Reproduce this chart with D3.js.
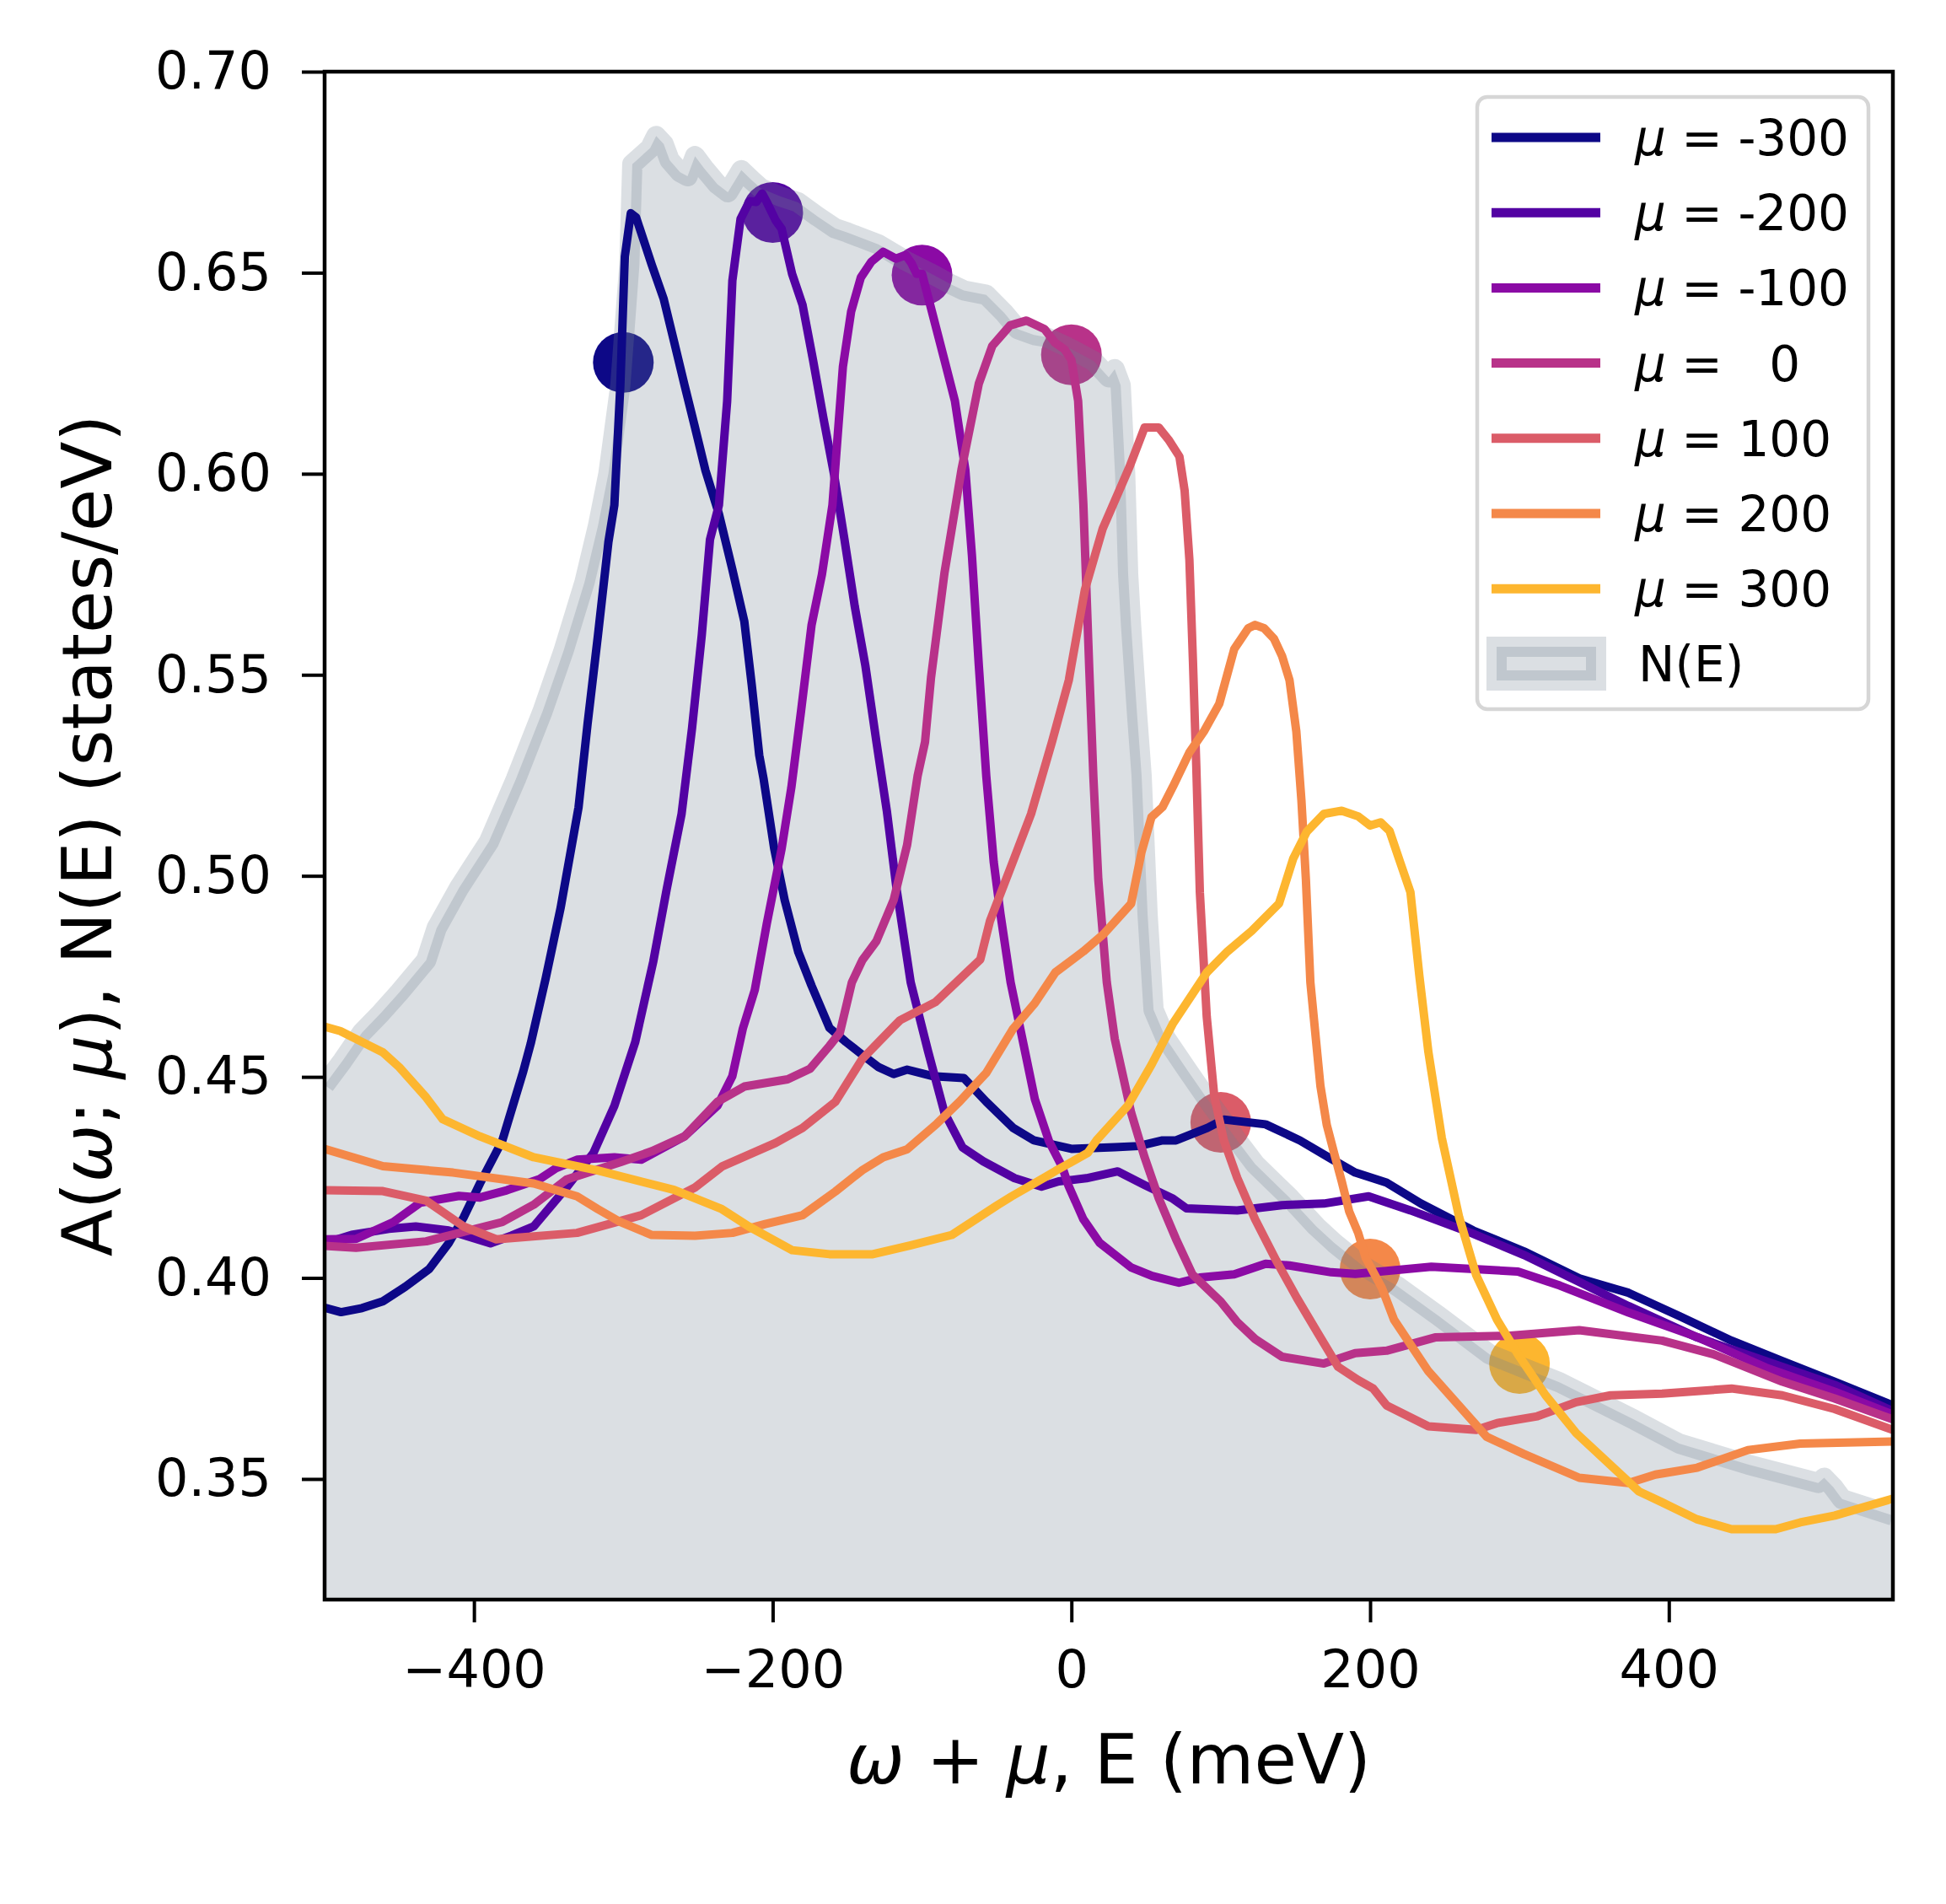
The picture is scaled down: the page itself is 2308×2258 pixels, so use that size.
<!DOCTYPE html>
<html>
<head>
<meta charset="utf-8">
<script src="https://cdn.jsdelivr.net/npm/d3@7"></script>
<style>
    body { margin: 0; background: #fff; }
    svg { display: block; font-family: "DejaVu Sans", sans-serif; }
    .axis text { font-size: 62px; fill: #000; font-family: "DejaVu Sans", sans-serif; }
    .axis line { stroke: #000; stroke-width: 4; }
    .axis path { display: none; }
    .chartFrame { fill: none; stroke: #000; stroke-width: 4.5; }
    .curve { fill: none; stroke-width: 10; stroke-linejoin: round; }
    .dosArea { fill: rgba(112, 128, 144, 0.25); stroke: none; }
    .dosLine { fill: none; stroke: rgba(112, 128, 144, 0.25); stroke-width: 24; stroke-linejoin: round; }
    .axisLabel { font-size: 82px; fill: #000; }
    .legendText { font-size: 58px; fill: #000; white-space: pre; }
</style>
</head>
<body>
<script>
//chemical potentials of the spectral functions (meV)
var muValues = [-300, -200, -100, 0, 100, 200, 300];

//y value of each marker dot, placed at omega + mu = mu
var markerValues = [0.6277, 0.665, 0.6494, 0.6296, 0.4387, 0.4022, 0.3787];

//density of states N(E), [E, value]
var dosCurve = [[-500,0.448],[-488,0.454],[-475,0.461],[-462,0.466],[-450,0.471],[-432,0.479],[-425,0.487],
    [-410,0.497],[-390,0.5085],[-372,0.524],[-354,0.541],[-340,0.556],[-326,0.573],[-317,0.587],[-310,0.600],
    [-302,0.622],[-296,0.652],
    [-294,0.677],[-288,0.679],[-282,0.681],[-278,0.684],[-273,0.682],[-269,0.678],[-262,0.675],[-257,0.674],
    [-252,0.679],[-246,0.676],[-237,0.672],[-230,0.670],[-221,0.6755],[-214,0.673],[-208,0.671],[-195,0.669],
    [-183,0.6675],[-170,0.664],[-158,0.661],[-150,0.660],[-143,0.659],[-129,0.657],[-120,0.655],[-111,0.653],
    [-95,0.650],[-80,0.647],[-72,0.6456],[-57,0.6445],[-45,0.640],[-36,0.636],[-25,0.6345],[-17,0.634],
    [0,0.631],[15,0.628],[25,0.624],[29,0.626],[33,0.622],[36,0.600],[38,0.575],[40,0.562],[44,0.540],
    [47,0.525],[51,0.4905],[55,0.4667],[63,0.4597],[77,0.452],[91,0.4445],[111,0.4342],[123,0.4283],
    [146,0.420],[164,0.4128],[176,0.4087],[195,0.403],[218,0.398],[246,0.3905],[280,0.381],[327,0.374],
    [377,0.3647],[407,0.3588],[453,0.3536],[500,0.349],[504,0.3503],[510,0.348],[516,0.345],[550,0.3409]];

//spectral function A(omega; mu) for each mu, [omega + mu, value]
var specM300 = [[-500,0.3926],[-489,0.3915],[-475,0.3925],[-461,0.3942],[-446,0.3978],[-430,0.4022],
    [-417,0.4086],[-407,0.415],[-396,0.4235],[-381,0.4342],[-367,0.4514],[-362,0.4583],[-352,0.4745],
    [-342,0.492],[-330,0.517],[-324,0.5376],[-317,0.5598],[-310,0.583],[-306,0.5922],[-302,0.622],
    [-299,0.654],[-295,0.6648],[-291.5,0.6638],[-281,0.652],[-273,0.6435],[-266,0.6328],[-259,0.622],
    [-252,0.6115],[-245,0.6008],[-236,0.590],[-227,0.5762],[-219,0.5633],[-214,0.5474],[-209,0.530],
    [-206,0.5239],[-199,0.5068],[-192,0.494],[-183,0.4812],[-174,0.4727],[-162,0.4622],[-151,0.4587],
    [-140,0.4555],[-129,0.4524],[-119,0.4507],[-110,0.4518],[-93,0.4502],[-72,0.4497],[-57,0.4438],
    [-39,0.4373],[-25,0.4342],[0,0.4321],[29,0.4325],[45,0.4328],[61,0.4342],[70,0.4342],[91,0.4373],
    [102,0.4394],[130,0.4382],[153,0.4342],[174,0.4296],[190,0.4262],[211,0.4237],[234,0.4185],
    [269,0.4118],[303,0.4066],[340,0.3999],[373,0.3963],[407,0.3905],[442,0.3844],[476,0.3793],
    [511,0.3742],[550,0.3683]];

var specM200 = [[-500,0.4086],[-482,0.4107],[-457,0.4122],[-439,0.4128],[-417,0.4118],[-389,0.4086],
    [-375,0.4105],[-360,0.4128],[-338,0.4225],[-320,0.4311],[-306,0.4428],[-292,0.4587],[-280,0.4786],
    [-271,0.4966],[-261,0.5154],[-254,0.5367],[-247.5,0.5598],[-242,0.5836],[-236,0.5922],[-230.5,0.618],
    [-227,0.648],[-221.5,0.6634],[-215.5,0.6678],[-211,0.6676],[-207,0.6697],[-204,0.6676],[-198,0.663],
    [-194,0.6609],[-187,0.6497],[-180,0.642],[-173,0.6283],[-166,0.6138],[-159,0.600],[-152,0.5838],
    [-145,0.5669],[-138,0.5524],[-130.5,0.5332],[-123.6,0.5162],[-117,0.4966],[-107.6,0.4735],
    [-96,0.4564],[-85,0.4411],[-73,0.4325],[-59,0.429],[-38,0.4248],[-20,0.4227],[-8.5,0.424],
    [10,0.4248],[31,0.4265],[49,0.4231],[68,0.4197],[77,0.4173],[111,0.4168],[141,0.4181],[169,0.4185],
    [199,0.4203],[227,0.4168],[269,0.411],[303,0.4057],[340,0.399],[373,0.393],[419,0.3852],[465,0.3793],
    [511,0.3734],[550,0.3669]];

var specM100 = [[-500,0.4096],[-479,0.4097],[-454,0.4139],[-436,0.4187],[-410,0.4204],[-396,0.42],
    [-378,0.4218],[-356,0.4246],[-345,0.4273],[-331,0.4294],[-306,0.43],[-288,0.4294],[-259,0.4352],
    [-237,0.4428],[-227,0.4502],[-220,0.462],[-212,0.4716],[-204,0.488],[-194,0.5068],[-187.5,0.522],
    [-181,0.541],[-174,0.5623],[-167,0.575],[-160,0.5922],[-153,0.6266],[-147.5,0.6403],[-141,0.6488],
    [-134,0.6527],[-126,0.6552],[-117.5,0.6535],[-111,0.6544],[-107,0.6523],[-103.6,0.6497],[-100,0.6497],
    [-94,0.6412],[-85,0.6283],[-78,0.6181],[-71,0.601],[-66.6,0.5797],[-62,0.5524],[-57,0.5248],
    [-52,0.5034],[-47.5,0.4905],[-40.7,0.4735],[-32,0.458],[-24.5,0.4445],[-15,0.434],[-6,0.4275],
    [-2,0.423],[8,0.4146],[19,0.4087],[40,0.4026],[54,0.4005],[72,0.3988],[86,0.4001],[109,0.4009],
    [130,0.4035],[146,0.4031],[174,0.4014],[190,0.401],[241,0.4028],[299,0.4016],[327,0.3981],
    [373,0.3914],[419,0.3853],[465,0.3777],[511,0.3717],[550,0.366]];

var spec0 = [[-500,0.408],[-479,0.4075],[-432,0.4091],[-381,0.4139],[-360,0.4182],[-338,0.4245],
    [-302,0.4288],[-281,0.4315],[-259,0.4352],[-237,0.4438],[-219,0.4476],[-190,0.4494],[-175,0.452],
    [-162,0.4577],[-155,0.461],[-147,0.4735],[-140,0.479],[-130.5,0.4838],[-119,0.494],[-110,0.5077],
    [-103,0.5248],[-98,0.5333],[-94,0.5493],[-85,0.5753],[-73.6,0.601],[-62,0.6224],[-53,0.6318],
    [-41,0.6369],[-30,0.6381],[-18,0.636],[-11,0.6326],[-4.5,0.6309],[0,0.6283],[4.5,0.6181],[8,0.5924],
    [12,0.551],[14.7,0.5247],[18,0.4991],[23.7,0.4735],[29,0.4595],[40,0.4411],[49,0.430],[58.5,0.4198],
    [70,0.4097],[81,0.4009],[100,0.3941],[111,0.389],[123,0.3848],[141,0.3804],[169,0.3787],[190,0.3813],
    [211,0.3819],[243.5,0.3852],[292,0.3856],[340,0.387],[395.5,0.3844],[430,0.381],[476,0.3742],
    [511,0.370],[550,0.3648]];

var spec100 = [[-500,0.4218],[-461,0.4216],[-432,0.4192],[-407,0.4128],[-385,0.4096],[-331,0.4112],
    [-288,0.4156],[-252,0.4225],[-234,0.4277],[-198,0.4336],[-180,0.4373],[-158,0.4438],[-140,0.4545],
    [-119,0.4625],[-114.7,0.4641],[-91,0.4686],[-61,0.4792],[-54.5,0.4888],[-38.4,0.5043],[-27,0.5154],
    [-13,0.5333],[-1.7,0.5487],[0,0.5524],[9,0.5711],[21,0.5864],[39,0.6018],[49,0.6115],[58.5,0.6115],
    [65,0.6085],[72.3,0.6043],[75.8,0.5958],[79,0.5786],[81.4,0.5531],[83.6,0.5274],[86,0.4959],
    [90.6,0.465],[95.6,0.4454],[102,0.4343],[111,0.4249],[123,0.4146],[137,0.4044],[151,0.395],
    [164.6,0.3865],[178.5,0.3779],[192,0.3746],[202,0.3725],[211,0.3683],[239,0.3631],[271,0.3622],
    [285,0.3639],[312,0.3656],[338,0.3691],[361,0.3708],[395.5,0.3712],[442,0.3725],[476,0.3708],
    [511,0.3674],[550,0.3622]];

var spec200 = [[-500,0.4321],[-461,0.4278],[-414,0.4262],[-360,0.4235],[-331,0.4203],[-317,0.4171],
    [-302,0.4139],[-281,0.4107],[-252,0.4105],[-227,0.4112],[-205,0.4134],[-180,0.4156],[-158,0.4215],
    [-140,0.4268],[-126,0.43],[-110,0.432],[-90,0.4384],[-75,0.4438],[-57,0.451],[-39,0.462],
    [-24.5,0.4683],[-10.7,0.476],[8,0.4812],[21.5,0.4855],[40,0.4931],[47,0.506],[53.6,0.5146],
    [61,0.5171],[68,0.5222],[79,0.5307],[89,0.5361],[99,0.5428],[109,0.5564],[118.4,0.5616],[123,0.5624],
    [129,0.5616],[135.6,0.559],[141,0.5547],[146,0.5487],[150.6,0.5359],[154,0.5188],[157,0.4991],
    [160,0.4735],[166.7,0.4478],[171,0.438],[176,0.4309],[181,0.424],[186,0.4165],[192,0.4112],
    [197,0.405],[208,0.3974],[216,0.3896],[239,0.3768],[278,0.3605],[303,0.3562],[340,0.3503],
    [373,0.349],[391,0.3511],[419,0.3528],[453,0.3572],[488,0.3588],[550,0.3593]];

var spec300 = [[-500,0.4625],[-489.5,0.4614],[-475,0.4587],[-461,0.4561],[-450,0.4524],[-432,0.4449],
    [-421,0.4395],[-396,0.4352],[-360,0.43],[-317,0.4267],[-266,0.4219],[-234,0.4171],[-216,0.4128],
    [-187,0.4069],[-162,0.4059],[-133,0.4059],[-107.6,0.4081],[-80,0.4107],[-50,0.418],[-40,0.4203],
    [-17.5,0.4251],[-10.7,0.4266],[11,0.4311],[17,0.4343],[37.7,0.4428],[53.6,0.453],[68,0.4633],
    [90.7,0.476],[104.5,0.4812],[120.7,0.4863],[139,0.4931],[148.5,0.5043],[157.6,0.511],[169,0.5154],
    [181,0.5162],[192,0.5148],[200,0.5125],[207,0.5133],[213,0.5112],[220,0.5035],[227,0.4959],
    [233,0.475],[239,0.4562],[248,0.4348],[259.6,0.4151],[271,0.4007],[285,0.3896],[299,0.381],
    [317.5,0.3708],[338,0.3614],[380,0.3469],[395.5,0.3442],[418.6,0.34],[442,0.3375],[471.6,0.3375],
    [488,0.3392],[511,0.3409],[550,0.3451]];

//tick values for both axes
var xTicks = [-400, -200, 0, 200, 400];
var yTicks = [0.35, 0.40, 0.45, 0.50, 0.55, 0.60, 0.65, 0.70];

(function(){

    //plasma colours, one per mu
    var lineColors = ["#0d0887", "#5302a3", "#8b0aa5", "#b83289", "#db5c68", "#f48849", "#fdb62f"];

    window.onload = setChart();

    function setChart(){

        //frame dimensions
        var width = 2308,
            height = 2258,
            left = 385,
            right = 2245,
            top = 85,
            bottom = 1897;

        var svg = d3.select("body")
            .append("svg")
            .attr("width", width)
            .attr("height", height);

        //clip everything to the axes box
        svg.append("defs").append("clipPath")
            .attr("id", "plotClip")
            .append("rect")
            .attr("x", left)
            .attr("y", top)
            .attr("width", right - left)
            .attr("height", bottom - top);

        var xScale = d3.scaleLinear()
            .domain([-500, 550])
            .range([left, right]);

        var yScale = d3.scaleLinear()
            .domain([0.32, 0.70])
            .range([bottom, top]);

        var series = [specM300, specM200, specM100, spec0, spec100, spec200, spec300].map(function(pts, i){
            return { mu: muValues[i], points: pts, marker: markerValues[i], color: lineColors[i] };
        });

        var plot = svg.append("g")
            .attr("clip-path", "url(#plotClip)");

        //dots sit under the N(E) shading, lines sit above it
        plot.selectAll(".dot")
            .data(series)
            .enter()
            .append("circle")
            .attr("class", "dot")
            .attr("cx", function(d){ return xScale(d.mu); })
            .attr("cy", function(d){ return yScale(d.marker); })
            .attr("r", 36)
            .style("fill", function(d){ return d.color; });

        setDos(plot, xScale, yScale);

        var line = d3.line()
            .x(function(d){ return xScale(d[0]); })
            .y(function(d){ return yScale(d[1]); });

        plot.selectAll(".curve")
            .data(series)
            .enter()
            .append("path")
            .attr("class", "curve")
            .attr("d", function(d){ return line(d.points); })
            .style("stroke", function(d){ return d.color; });

        setAxes(svg, xScale, yScale, left, top, right, bottom);

        setLegend(svg, series);
    };

    function setDos(plot, xScale, yScale){
        var area = d3.area()
            .x(function(d){ return xScale(d[0]); })
            .y0(yScale(0.25))
            .y1(function(d){ return yScale(d[1]); });

        var line = d3.line()
            .x(function(d){ return xScale(d[0]); })
            .y(function(d){ return yScale(d[1]); });

        plot.append("path")
            .datum(dosCurve)
            .attr("class", "dosArea")
            .attr("d", area);

        plot.append("path")
            .datum(dosCurve)
            .attr("class", "dosLine")
            .attr("d", line);
    };

    function setAxes(svg, xScale, yScale, left, top, right, bottom){
        svg.append("g")
            .attr("class", "axis")
            .attr("transform", "translate(0," + bottom + ")")
            .call(d3.axisBottom(xScale)
                .tickValues(xTicks)
                .tickFormat(d3.format("d"))
                .tickSize(27)
                .tickSizeOuter(0)
                .tickPadding(33));

        svg.append("g")
            .attr("class", "axis")
            .attr("transform", "translate(" + left + ",0)")
            .call(d3.axisLeft(yScale)
                .tickValues(yTicks)
                .tickFormat(d3.format(".2f"))
                .tickSize(27)
                .tickSizeOuter(0)
                .tickPadding(36));

        svg.selectAll(".axis text").attr("font-family", null).attr("font-size", null);

        svg.append("rect")
            .attr("class", "chartFrame")
            .attr("x", left)
            .attr("y", top)
            .attr("width", right - left)
            .attr("height", bottom - top);

        //x label with math italics
        var xLabel = svg.append("text")
            .attr("class", "axisLabel")
            .attr("x", (left + right) / 2)
            .attr("y", 2115)
            .attr("text-anchor", "middle")
            .style("white-space", "pre");
        xLabel.append("tspan").attr("font-style", "italic").text("ω");
        xLabel.append("tspan").text(" + ");
        xLabel.append("tspan").attr("font-style", "italic").text("μ");
        xLabel.append("tspan").text(", E (meV)");

        var yLabel = svg.append("text")
            .attr("class", "axisLabel")
            .attr("transform", "translate(132," + (top + bottom) / 2 + ") rotate(-90)")
            .attr("text-anchor", "middle")
            .style("white-space", "pre");
        yLabel.append("tspan").text("A(");
        yLabel.append("tspan").attr("font-style", "italic").text("ω");
        yLabel.append("tspan").text("; ");
        yLabel.append("tspan").attr("font-style", "italic").text("μ");
        yLabel.append("tspan").text("), N(E) (states/eV)");
    };

    function setLegend(svg, series){
        var legend = svg.append("g").attr("class", "legend");

        legend.append("rect")
            .attr("x", 1752)
            .attr("y", 115)
            .attr("width", 464)
            .attr("height", 726)
            .attr("rx", 12)
            .style("fill", "rgba(255,255,255,0.8)")
            .style("stroke", "#d6d6d6")
            .style("stroke-width", 4.5);

        var rowY = function(i){ return 163 + i * 89.2; };

        var rows = legend.selectAll(".legendRow")
            .data(series)
            .enter()
            .append("g")
            .attr("class", "legendRow");

        rows.append("line")
            .attr("x1", 1769)
            .attr("x2", 1898)
            .attr("y1", function(d, i){ return rowY(i); })
            .attr("y2", function(d, i){ return rowY(i); })
            .style("stroke", function(d){ return d.color; })
            .style("stroke-width", 11);

        var labels = rows.append("text")
            .attr("class", "legendText")
            .attr("x", 1939)
            .attr("y", function(d, i){ return rowY(i) + 21; });
        labels.append("tspan").attr("font-style", "italic").text("μ");
        labels.append("tspan").text(function(d){
            var s = String(d.mu);
            while (s.length < 3) s = " " + s;
            return " = " + s;
        });

        //N(E) patch
        legend.append("rect")
            .attr("x", 1775)
            .attr("y", 767)
            .attr("width", 118)
            .attr("height", 40)
            .style("fill", "rgba(112,128,144,0.25)")
            .style("stroke", "rgba(112,128,144,0.25)")
            .style("stroke-width", 24);

        legend.append("text")
            .attr("class", "legendText")
            .attr("x", 1943)
            .attr("y", rowY(7) + 21)
            .text("N(E)");
    };

})();
</script>
</body>
</html>
